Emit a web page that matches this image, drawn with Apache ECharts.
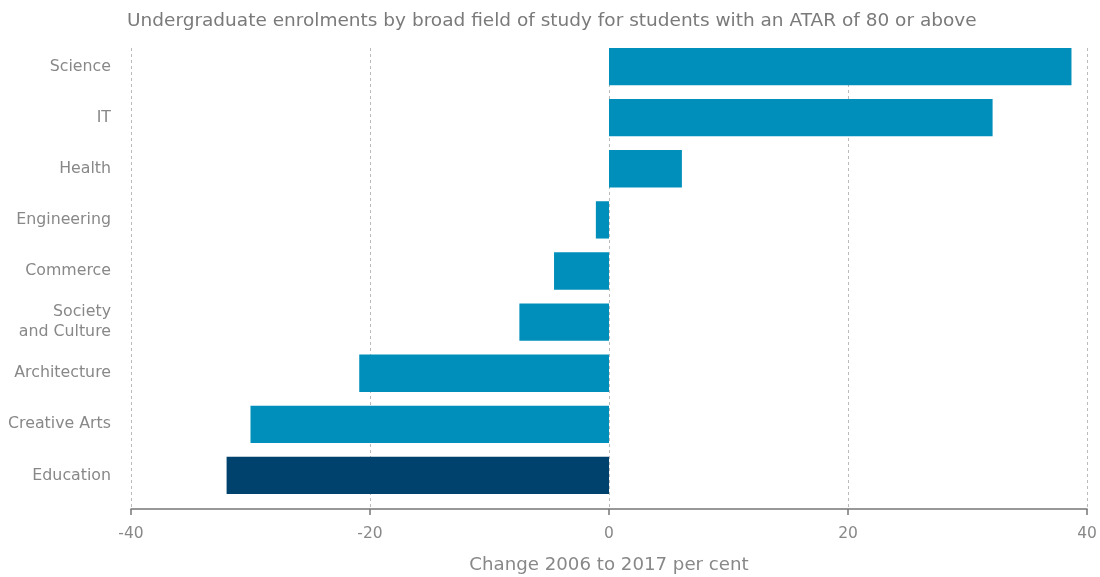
<!DOCTYPE html>
<html><head><meta charset="utf-8">
<script src="https://cdn.jsdelivr.net/npm/echarts@6/dist/echarts.min.js"></script>
<style>html,body{margin:0;padding:0;background:#fff}#c{width:1100px;height:577px}</style>
</head><body><div id="c"></div>
<script>
const categories = ['Science','IT','Health','Engineering','Commerce','Society\nand Culture','Architecture','Creative Arts','Education'];
const values = [38.7, 32.1, 6.1, -1.1, -4.6, -7.5, -20.9, -30.0, -32.0];
const highlight = 'Education';
const xTicks = { min: -40, max: 40, interval: 20 };
const titleText = 'Undergraduate enrolments by broad field of study for students with an ATAR of 80 or above';
const xName = 'Change 2006 to 2017 per cent';

const font = 'DejaVu Sans';
const chart = echarts.init(document.getElementById('c'));
chart.setOption({
  animation: false,
  textStyle: { fontFamily: font },
  title: { text: titleText, left: 122, top: 7, textStyle: { fontFamily: font, fontWeight: 'normal', fontSize: 18.5, color: '#7a7a7a' } },
  grid: [
    { left: 131, right: 13, top: 41, bottom: 76, containLabel: false, outerBoundsMode: 'none' },
    { left: 131, right: 13, top: 48, bottom: 68, containLabel: false, outerBoundsMode: 'none' }
  ],
  xAxis: [
    { gridIndex: 0, type: 'value', min: xTicks.min, max: xTicks.max, interval: xTicks.interval, offset: 8,
      axisLine: { show: true, lineStyle: { color: '#777', width: 1.5 } },
      axisTick: { show: true, length: 6, lineStyle: { color: '#777', width: 1.5 } },
      axisLabel: { fontSize: 15.5, color: '#888', margin: 17, fontFamily: font },
      splitLine: { show: false },
      name: xName, nameLocation: 'middle', nameGap: 47,
      nameTextStyle: { fontSize: 18.2, color: '#888', fontFamily: font } },
    { gridIndex: 1, type: 'value', min: xTicks.min, max: xTicks.max, interval: xTicks.interval,
      axisLine: { show: false }, axisTick: { show: false }, axisLabel: { show: false },
      splitLine: { show: true, lineStyle: { type: [3, 3], color: '#bbb', width: 1 } } }
  ],
  yAxis: [
    { gridIndex: 0, type: 'category', data: categories, inverse: true,
      axisLine: { show: false }, axisTick: { show: false },
      axisLabel: { fontSize: 15.8, color: '#888', margin: 20, lineHeight: 20, fontFamily: font } },
    { gridIndex: 1, type: 'category', data: [], show: false }
  ],
  series: [{
    type: 'bar', xAxisIndex: 0, yAxisIndex: 0,
    data: values.map((v, i) => ({ value: v, itemStyle: { color: categories[i] === highlight ? '#00426e' : '#008fbb' } })),
    barCategoryGap: '27%'
  }]
});
</script></body></html>
